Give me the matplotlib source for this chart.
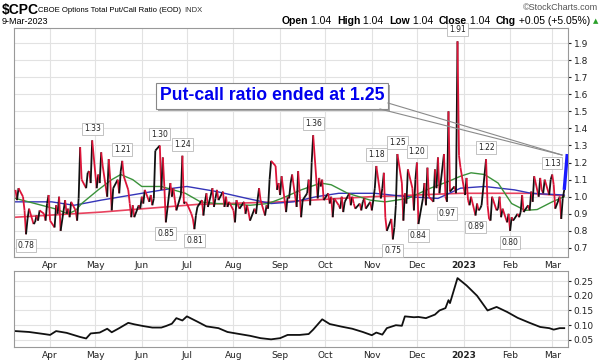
import numpy as np
import pandas as pd
import matplotlib
matplotlib.use('Agg')
import matplotlib.pyplot as plt
import matplotlib.dates as mdates
from matplotlib.collections import LineCollection
from matplotlib.patches import Rectangle
from matplotlib.lines import Line2D

# daily $CPC closes, one list per month (business days)
mar22 = [1.04, 0.98, 1.05, 1.00, 0.92, 0.78, 0.87, 0.93, 0.84, 0.85, 0.89, 0.86, 0.92, 0.90, 0.86, 0.96, 1.01]
apr22 = [0.86, 0.82, 0.95, 0.90, 1.00, 0.80, 0.98, 0.90, 0.93, 0.88, 0.97, 0.92, 0.86, 0.99, 1.29, 1.10, 1.05,
         1.14, 1.15, 1.08, 1.33]
may22 = [1.05, 1.13, 1.08, 1.26, 1.18, 1.00, 1.22, 1.10, 0.92, 1.05, 1.10, 1.02, 1.15, 1.21, 1.12, 1.04, 0.96,
         0.88, 0.95, 0.88, 0.95, 0.93]
jun22 = [1.00, 0.96, 1.04, 0.97, 1.01, 0.95, 0.99, 1.27, 1.30, 1.04, 1.23, 1.06, 0.85, 1.08, 1.00, 1.05, 0.98,
         0.92, 1.01, 1.24, 0.96, 0.97]
jul22 = [0.96, 0.90, 0.87, 0.81, 0.89, 0.94, 0.98, 0.89, 0.97, 1.02, 0.94, 1.05, 0.94, 0.99, 1.04, 0.98, 1.03,
         0.94, 1.00, 0.94, 0.97]
aug22 = [0.92, 0.85, 0.98, 0.95, 0.93, 0.97, 0.90, 0.95, 0.91, 0.86, 0.93, 0.90, 0.98, 1.05, 0.98, 0.89, 0.95,
         0.93, 1.10, 1.21, 1.18, 1.04, 1.08]
sep22 = [1.01, 1.12, 0.91, 1.00, 0.99, 1.08, 1.13, 0.94, 1.15, 1.02, 0.88, 0.98, 1.02, 1.10, 0.95, 1.20, 1.36,
         0.99, 1.11, 1.06, 1.10, 0.98]
oct22 = [1.02, 0.96, 1.00, 0.88, 0.99, 0.95, 0.93, 1.00, 0.91, 0.97, 1.02, 0.95, 1.00, 0.96, 0.93, 0.96, 0.92,
         0.97, 0.99, 0.93, 0.97]
nov22 = [0.92, 0.98, 1.05, 1.18, 0.99, 1.05, 1.14, 0.88, 0.80, 0.87, 0.75, 0.82, 0.95, 1.25, 1.08, 0.86, 1.02,
         0.96, 1.16, 1.05, 0.92, 1.10]
dec22 = [1.20, 0.84, 0.99, 1.08, 0.95, 1.17, 1.00, 0.97, 1.16, 1.05, 1.23, 1.02, 1.25, 1.00, 0.97, 1.50, 1.03,
         1.06, 1.02, 1.91, 1.24, 1.17]
jan23 = [1.01, 1.11, 0.98, 0.95, 1.00, 0.89, 0.96, 0.92, 0.93, 0.95, 1.22, 0.95, 0.87, 0.86, 1.00, 0.92, 0.93,
         1.00, 0.88, 0.93, 0.85, 0.90]
feb23 = [0.80, 0.88, 0.86, 0.90, 0.88, 0.91, 1.01, 0.91, 0.95, 0.92, 1.03, 0.97, 1.12, 1.00, 1.11, 1.04, 1.02,
         1.10, 1.01, 1.10]
mar23 = [1.13, 1.07, 0.93, 1.00, 0.87, 0.99, 1.04]

# moving averages
ma20_dates = ['2022-03-09', '2022-03-22', '2022-04-04', '2022-04-13', '2022-04-18', '2022-04-22', '2022-05-03',
              '2022-05-12', '2022-05-18', '2022-05-26', '2022-06-01', '2022-06-14', '2022-06-22', '2022-06-30',
              '2022-07-10', '2022-07-21', '2022-08-01', '2022-08-12', '2022-08-24', '2022-09-02', '2022-09-15',
              '2022-09-28', '2022-10-05', '2022-10-16', '2022-10-31', '2022-11-10', '2022-11-25', '2022-12-10',
              '2022-12-22', '2022-12-30', '2023-01-06', '2023-01-15', '2023-01-24', '2023-02-02', '2023-02-11',
              '2023-02-19', '2023-03-01', '2023-03-09']
ma20 = [0.99, 0.96, 0.93, 0.90, 0.92, 0.96, 1.04, 1.10, 1.13, 1.10, 1.06, 1.06, 1.04, 1.02, 0.97, 0.96, 0.955,
        0.95, 0.96, 0.99, 1.04, 1.08, 1.07, 1.02, 0.98, 0.97, 0.99, 1.05, 1.09, 1.12, 1.14, 1.13, 1.08, 0.96,
        0.92, 0.925, 0.97, 1.00]
ma50_dates = ['2022-03-09', '2022-04-02', '2022-04-17', '2022-05-05', '2022-06-01', '2022-06-22', '2022-07-01',
              '2022-07-21', '2022-08-10', '2022-08-26', '2022-09-10', '2022-09-25', '2022-10-10', '2022-11-03',
              '2022-11-25', '2022-12-15', '2022-12-30', '2023-01-15', '2023-02-04', '2023-02-15', '2023-03-09']
ma50 = [0.97, 0.97, 0.95, 0.98, 1.02, 1.05, 1.06, 1.03, 0.99, 0.96, 0.97, 1.00, 1.02, 1.02, 1.00, 0.99, 1.05,
        1.06, 1.04, 1.02, 1.01]
ma200_dates = ['2022-03-09', '2022-05-05', '2022-07-08', '2022-09-02', '2022-10-31', '2022-12-30', '2023-02-15',
               '2023-03-09']
ma200 = [0.88, 0.91, 0.955, 0.97, 1.00, 1.02, 1.02, 1.005]

# lower panel indicator
ind_dates = ['2022-03-09', '2022-03-18', '2022-03-28', '2022-04-01', '2022-04-05', '2022-04-12', '2022-04-21',
             '2022-04-25', '2022-04-28', '2022-05-04', '2022-05-09', '2022-05-12', '2022-05-17', '2022-05-23',
             '2022-05-27', '2022-06-02', '2022-06-08', '2022-06-14', '2022-06-17', '2022-06-21', '2022-06-24',
             '2022-06-28', '2022-07-01', '2022-07-08', '2022-07-14', '2022-07-22', '2022-07-28', '2022-08-05',
             '2022-08-12', '2022-08-19', '2022-08-26', '2022-09-01', '2022-09-06', '2022-09-14', '2022-09-20',
             '2022-09-23', '2022-09-29', '2022-10-04', '2022-10-12', '2022-10-19', '2022-10-26', '2022-11-01',
             '2022-11-04', '2022-11-08', '2022-11-11', '2022-11-17', '2022-11-21', '2022-11-23', '2022-11-29',
             '2022-12-02', '2022-12-07', '2022-12-13', '2022-12-16', '2022-12-20', '2022-12-22', '2022-12-23',
             '2022-12-28', '2023-01-03', '2023-01-10', '2023-01-17', '2023-01-23', '2023-01-30', '2023-02-06',
             '2023-02-14', '2023-02-21', '2023-02-27', '2023-03-02', '2023-03-06', '2023-03-09']
ind_vals = [0.080, 0.077, 0.070, 0.067, 0.080, 0.074, 0.060, 0.055, 0.072, 0.075, 0.088, 0.076, 0.090, 0.108,
            0.103, 0.097, 0.092, 0.092, 0.097, 0.105, 0.124, 0.116, 0.130, 0.112, 0.096, 0.090, 0.077, 0.070,
            0.064, 0.056, 0.052, 0.056, 0.067, 0.067, 0.070, 0.085, 0.120, 0.104, 0.095, 0.088, 0.077, 0.066,
            0.075, 0.068, 0.090, 0.100, 0.098, 0.130, 0.127, 0.128, 0.124, 0.136, 0.150, 0.158, 0.185, 0.175,
            0.260, 0.235, 0.200, 0.150, 0.162, 0.145, 0.125, 0.108, 0.094, 0.090, 0.085, 0.090, 0.090]

label_dates = ['2022-03-16', '2022-04-29', '2022-05-19', '2022-06-13', '2022-06-17', '2022-06-28', '2022-07-06',
               '2022-09-23', '2022-11-04', '2022-11-15', '2022-11-18', '2022-12-01', '2022-12-02', '2022-12-21',
               '2022-12-28', '2023-01-09', '2023-01-16', '2023-02-01', '2023-03-01']
final_value = 1.25

values = np.array(mar22 + apr22 + may22 + jun22 + jul22 + aug22 + sep22 + oct22 + nov22 + dec22 + jan23 + feb23 + mar23)
dates = pd.bdate_range(end='2023-03-09', periods=len(values))
series = pd.Series(values, index=dates)

W, H = 605, 364
fig = plt.figure(figsize=(W / 100, H / 100), dpi=100)
ax = fig.add_axes([14 / W, 1 - 257 / H, 554 / W, 229 / H])
ax2 = fig.add_axes([14 / W, 1 - 347 / H, 554 / W, 76 / H])
renderer = fig.canvas.get_renderer()

xmin, xmax = pd.Timestamp('2022-03-08'), pd.Timestamp('2023-03-11 12:00')
months = pd.date_range('2022-04-01', '2023-03-01', freq='MS')
mlabels = ['2023' if m.month == 1 else m.strftime('%b') for m in months]

for a in (ax, ax2):
    a.set_xlim(xmin, xmax)
    a.set_xticks(months)
    a.set_xticklabels(mlabels)
    for t in a.get_xticklabels():
        if t.get_text() == '2023':
            t.set_fontweight('bold')
    a.yaxis.tick_right()
    a.tick_params(axis='both', labelsize=6.5, colors='#222222', length=2, pad=2)
    a.tick_params(axis='x', length=0, pad=3)
    a.grid(True, color='#e2e2e2', lw=0.8)
    a.set_axisbelow(True)
    for s in a.spines.values():
        s.set_color('#999999')
        s.set_linewidth(0.8)

# main panel
ax.set_ylim(0.647, 1.988)
ax.set_yticks(np.arange(0.7, 1.95, 0.1))
ax.set_yticklabels([f'{v:.1f}' for v in np.arange(0.7, 1.95, 0.1)])

ax.plot(pd.to_datetime(ma200_dates), ma200, color='#e8425e', lw=1.2, zorder=2)
ax.plot(pd.to_datetime(ma50_dates), ma50, color='#3434b8', lw=1.0, zorder=2)
ax.plot(pd.to_datetime(ma20_dates), ma20, color='#3a923a', lw=1.0, zorder=2)

xn = mdates.date2num(dates)
pts = np.column_stack([xn, values])
segs = np.stack([pts[:-1], pts[1:]], axis=1)
cols = np.where(np.diff(values) >= 0, '#111111', '#dc1438')
ax.add_collection(LineCollection(segs, colors=cols, linewidths=1.3, zorder=3))

# blue highlight of the final reading
ax.plot([dates[-1], dates[-1] + pd.Timedelta(days=2)], [values[-1], final_value], color='#1a1aff', lw=2.4,
        zorder=4, solid_capstyle='butt')

for d in label_dates:
    v = series[pd.Timestamp(d)]
    up = v > 1
    ax.annotate(f'{v:.2f}', (pd.Timestamp(d), v), xytext=(0, 5 if up else -5), textcoords='offset points',
                ha='center', va='bottom' if up else 'top', fontsize=5.5, color='#222222',
                bbox=dict(boxstyle='square,pad=0.25', fc='white', ec='#b8b8b8', lw=0.6), zorder=6)

# lower panel
ax2.set_ylim(0.026, 0.284)
ax2.set_yticks([0.05, 0.10, 0.15, 0.20, 0.25])
ax2.set_yticklabels(['0.05', '0.10', '0.15', '0.20', '0.25'])
ax2.plot(pd.to_datetime(ind_dates), ind_vals, color='#111111', lw=1.3)

# header
fig.text(2 / W, 1 - 10 / H, r'\$CPC', fontsize=10, fontweight='bold', family='Liberation Sans', va='center')
title = fig.text(38 / W, 1 - 10 / H, 'CBOE Options Total Put/Call Ratio (EOD)', fontsize=7.5,
                 family='Liberation Sans', va='center')
title.set_fontsize(7.5 * 143 / title.get_window_extent(renderer).width)
fig.text(184 / W, 1 - 10 / H, 'INDX', fontsize=5.5, family='Liberation Sans', va='center', color='#333333')
fig.text(2 / W, 1 - 21 / H, '9-Mar-2023', fontsize=6.5, family='Liberation Sans', va='center')
fig.text(598 / W, 1 - 8 / H, '\u00a9StockCharts.com', fontsize=6.5, color='#555555', ha='right', va='center',
         family=['Liberation Sans', 'DejaVu Sans'])

pieces = [('Open', 'bold'), (' 1.04  ', 'normal'), ('High', 'bold'), (' 1.04  ', 'normal'), ('Low', 'bold'),
          (' 1.04  ', 'normal'), ('Close', 'bold'), (' 1.04  ', 'normal'), ('Chg', 'bold'),
          (' +0.05 (+5.05%)', 'normal')]
fig.text(598 / W, 1 - 21 / H, '\u25b2', fontsize=5, color='#2aa02a', ha='right', va='center', family='DejaVu Sans')
xr = 590
for txt, wt in reversed(pieces):
    t = fig.text(xr / W, 1 - 21 / H, txt, fontsize=7.5, fontweight=wt, ha='right', va='center',
                 family='Liberation Sans')
    xr -= t.get_window_extent(renderer).width

# callout box
fig.patches.append(Rectangle((158 / W, 1 - 111 / H), 232 / W, 26 / H, transform=fig.transFigure,
                             fc='#aaaaaa', ec='none', zorder=7))
fig.patches.append(Rectangle((156 / W, 1 - 109 / H), 232 / W, 26 / H, transform=fig.transFigure,
                             fc='white', ec='#888888', lw=0.8, zorder=8))
fig.text(272 / W, 1 - 96 / H, 'Put-call ratio ended at 1.25', fontsize=12.7, fontweight='bold',
         family='Liberation Sans', color='#0000ee', ha='center', va='center', zorder=9)
for (x0, y0) in [(380, 109), (388, 103)]:
    fig.lines.append(Line2D([x0 / W, 562 / W], [1 - y0 / H, 1 - 155 / H], transform=fig.transFigure,
                            color='#8a8a8a', lw=0.8, zorder=9))

fig.savefig('out.png', dpi=100)
